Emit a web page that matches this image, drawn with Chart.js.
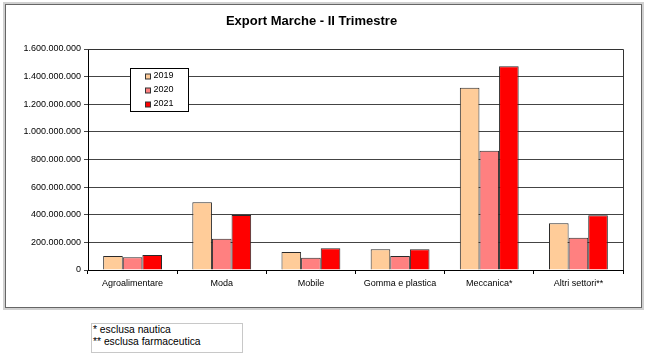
<!DOCTYPE html>
<html>
<head>
<meta charset="utf-8">
<script src="https://cdn.jsdelivr.net/npm/chart.js@4/dist/chart.umd.min.js"></script>
<style>
  body { margin: 0; background: #fff; font-family: "Liberation Sans", Arial, sans-serif; }
  #frame {
    position: absolute; left: 5px; top: 4px; width: 635px; height: 302px;
    border: 1px solid #666; box-shadow: 0 0 0 2px #d0d0d0;
  }
  #myChart { position: absolute; left: 0; top: 0; }
  #note {
    position: absolute; left: 91px; top: 323px; width: 149px; height: 28px;
    border: 1px solid #c8c8c8; font-size: 10.3px; line-height: 11.7px;
    padding-left: 1px; color: #000;
  }
</style>
</head>
<body>
<div id="frame"></div>
<canvas id="myChart" width="650" height="312"></canvas>
<div id="note">* esclusa nautica<br>** esclusa farmaceutica</div>
<script>
var categories = ["Agroalimentare", "Moda", "Mobile", "Gomma e plastica", "Meccanica*", "Altri settori**"];
var years = ["2019", "2020", "2021"];
var export2019 = [101000000, 490000000, 130000000, 150000000, 1320000000, 338000000];
var export2020 = [92000000, 227000000, 89000000, 101000000, 864000000, 234000000];
var export2021 = [109000000, 398000000, 157000000, 150000000, 1475000000, 396000000];
var yTicks = [0, 200000000, 400000000, 600000000, 800000000, 1000000000, 1200000000, 1400000000, 1600000000];

var barColors = ['#FFCC99', '#FF8080', '#FF0000'];

function fmt(v) {
    return String(v).replace(/\B(?=(\d{3})+(?!\d))/g, '.');
}

// box around the plot area + the little legend box
var boxPlugin = {
    id: 'boxPlugin',
    afterDatasetsDraw: function (chart) {
        var ctx = chart.ctx;
        var a = chart.chartArea;
        ctx.save();
        ctx.strokeStyle = '#333';
        ctx.lineWidth = 1;
        ctx.beginPath();
        ctx.moveTo(a.left, Math.round(a.top) + 0.5);
        ctx.lineTo(Math.round(a.right) + 0.5, Math.round(a.top) + 0.5);
        ctx.lineTo(Math.round(a.right) + 0.5, a.bottom);
        ctx.stroke();

        var lx = Math.round(a.left + 42) + 0.5;
        var ly = Math.round(a.top + 19) + 0.5;
        ctx.fillStyle = '#fff';
        ctx.fillRect(lx, ly, 58, 43);
        ctx.strokeStyle = '#000';
        ctx.strokeRect(lx, ly, 58, 43);
        ctx.font = '9px "Liberation Sans", Arial, sans-serif';
        ctx.textBaseline = 'middle';
        chart.data.datasets.forEach(function (ds, i) {
            var cy = ly + 7.5 + i * 14;
            ctx.fillStyle = ds.backgroundColor;
            ctx.fillRect(lx + 15, Math.round(cy - 2.5), 5, 5);
            ctx.strokeStyle = '#333';
            ctx.strokeRect(lx + 15, Math.round(cy - 2.5), 5, 5);
            ctx.fillStyle = '#000';
            ctx.fillText(ds.label, lx + 23, cy);
        });
        ctx.restore();
    }
};

new Chart("myChart", {
    type: "bar",
    data: {
        labels: categories,
        datasets: [
            { label: years[0], data: export2019, backgroundColor: barColors[0], borderColor: '#2a2a2a', borderWidth: 1 },
            { label: years[1], data: export2020, backgroundColor: barColors[1], borderColor: '#2a2a2a', borderWidth: 1 },
            { label: years[2], data: export2021, backgroundColor: barColors[2], borderColor: '#2a2a2a', borderWidth: 1 }
        ]
    },
    options: {
        responsive: false,
        animation: false,
        layout: { padding: { left: 0, right: 27, top: 0, bottom: 0 } },
        datasets: { bar: { barPercentage: 1, categoryPercentage: 0.66 } },
        plugins: {
            legend: { display: false },
            tooltip: { enabled: false },
            title: {
                display: true,
                text: "Export Marche - II Trimestre",
                color: '#000',
                font: { family: '"Liberation Sans", Arial, sans-serif', size: 13, weight: 'bold' },
                padding: { top: 13.5, bottom: 19.9 }
            }
        },
        scales: {
            y: {
                min: 0,
                max: 1600000000,
                afterBuildTicks: function (scale) {
                    scale.ticks = yTicks.map(function (v) { return { value: v }; });
                },
                afterFit: function (scale) { scale.width = 88; },
                grid: { color: '#444', tickLength: 4, lineWidth: 1 },
                border: { display: true, color: '#000' },
                ticks: {
                    color: '#000',
                    padding: 3,
                    font: { family: '"Liberation Sans", Arial, sans-serif', size: 9 },
                    callback: function (v) { return fmt(v); }
                }
            },
            x: {
                afterFit: function (scale) { scale.height = 42; },
                grid: { display: true, offset: true, drawOnChartArea: false, tickLength: 4, color: '#000' },
                border: { display: true, color: '#000' },
                ticks: {
                    color: '#000',
                    padding: 4,
                    maxRotation: 0,
                    autoSkip: false,
                    font: { family: '"Liberation Sans", Arial, sans-serif', size: 9 }
                }
            }
        }
    },
    plugins: [boxPlugin]
});
</script>
</body>
</html>
